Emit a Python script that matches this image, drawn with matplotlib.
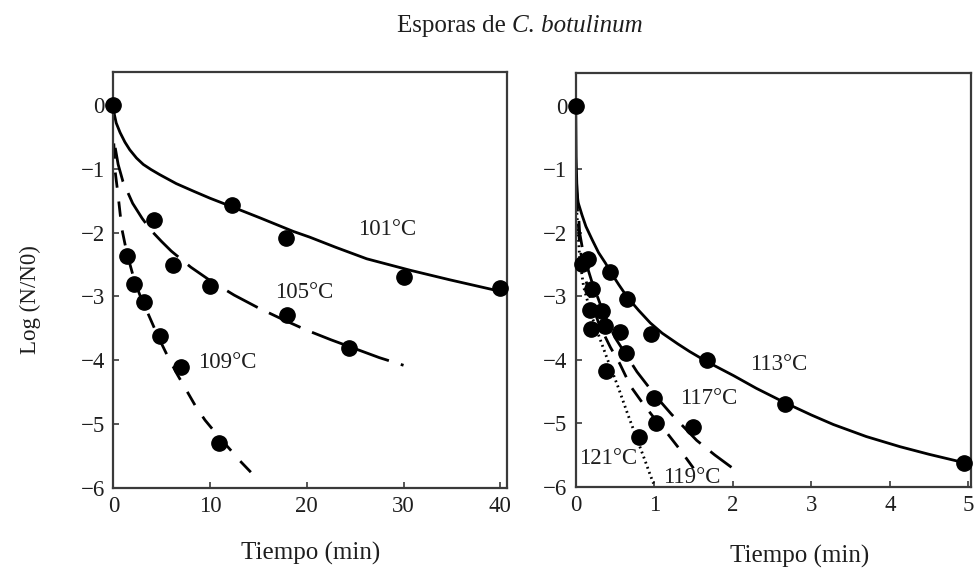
import matplotlib
matplotlib.use("Agg")
import matplotlib.pyplot as plt

plt.rcParams['font.family'] = ['Liberation Serif', 'DejaVu Serif']
plt.rcParams['lines.scale_dashes'] = False
plt.rcParams['axes.unicode_minus'] = True

# ---------------- data (left panel, minutes) ----------------
pts101_t = [0, 12.3, 17.9, 30.0, 40.0]
pts101_y = [0, -1.56, -2.09, -2.69, -2.87]
pts105_t = [4.2, 6.2, 10.0, 18.0, 24.4]
pts105_y = [-1.80, -2.50, -2.83, -3.29, -3.81]
pts109_t = [1.38, 2.17, 3.2, 4.83, 7.0, 10.96]
pts109_y = [-2.37, -2.81, -3.08, -3.62, -4.11, -5.30]

fit101_t = [0, 0.02, 0.07, 0.3, 0.7, 1.2, 1.7, 2.4, 3.1, 3.9, 4.8, 6.5, 8.3, 10.0, 11.7,
            15.2, 18.6, 20.3, 23.0, 26.2, 30.7, 34.8, 40.0]
fit101_y = [0, -0.05, -0.12, -0.28, -0.43, -0.58, -0.70, -0.83, -0.93, -1.01, -1.09, -1.23,
            -1.35, -1.46, -1.56, -1.77, -1.98, -2.07, -2.23, -2.41, -2.59, -2.74, -2.92]
fit105_t = [0.2, 0.5, 1, 2, 3, 4, 5, 6, 8, 10, 12.5, 15, 17.5, 20, 22.5, 25, 27.5, 30]
fit105_y = [-0.67, -0.93, -1.20, -1.54, -1.78, -1.98, -2.14, -2.29, -2.54, -2.75, -2.98,
            -3.18, -3.36, -3.53, -3.68, -3.82, -3.96, -4.08]
fit109_t = [0.05, 0.2, 0.5, 0.87, 1.4, 2.2, 3.0, 3.62, 4.6, 5.69, 6.6, 7.59, 8.5, 9.48,
            10.9, 12.07, 13.1, 14.3]
fit109_y = [-0.60, -1.05, -1.42, -1.93, -2.32, -2.76, -3.08, -3.28, -3.62, -3.96, -4.22,
            -4.48, -4.72, -4.94, -5.20, -5.40, -5.58, -5.77]

# ---------------- data (right panel, minutes) ----------------
pts113_t = [0, 0.44, 0.655, 0.955, 1.67, 2.67, 4.94]
pts113_y = [0, -2.61, -3.05, -3.59, -4.01, -4.69, -5.62]
pts117_t = [0.16, 0.21, 0.37, 0.56, 0.64, 1.0, 1.49]
pts117_y = [-2.41, -2.89, -3.47, -3.56, -3.89, -4.61, -5.06]
pts119_t = [0.076, 0.18, 0.33, 1.02]
pts119_y = [-2.49, -3.22, -3.23, -5.00]
pts121_t = [0.20, 0.39, 0.80]
pts121_y = [-3.51, -4.18, -5.21]

fit113_t = [0, 0.005, 0.016, 0.03, 0.08, 0.13, 0.21, 0.29, 0.38, 0.44, 0.55, 0.655, 0.8,
            0.95, 1.1, 1.3, 1.45, 1.67, 2.01, 2.3, 2.67, 3.0, 3.28, 3.7, 4.13, 4.5, 4.94, 5.0]
fit113_y = [0, -0.8, -1.35, -1.52, -1.72, -1.9, -2.11, -2.31, -2.48, -2.61, -2.82, -3.01,
            -3.22, -3.42, -3.58, -3.75, -3.87, -4.03, -4.25, -4.45, -4.68, -4.87, -5.02,
            -5.21, -5.37, -5.49, -5.62, -5.65]
fit117_t = [0.01, 0.05, 0.1, 0.2, 0.35, 0.5, 0.78, 1.03, 1.22, 1.54, 1.77, 2.0]
fit117_y = [-1.2, -2.0, -2.35, -2.75, -3.25, -3.65, -4.19, -4.59, -4.86, -5.27, -5.50, -5.71]
fit119_t = [0.01, 0.05, 0.1, 0.2, 0.3, 0.44, 0.56, 0.7, 0.85, 1.0, 1.16, 1.33, 1.5]
fit119_y = [-1.4, -2.2, -2.6, -3.1, -3.45, -3.80, -4.06, -4.42, -4.68, -4.92, -5.15, -5.42, -5.71]
fit121_t = [0.01, 0.05, 0.1, 0.2, 0.27, 0.4, 0.54, 0.66, 0.78, 0.88, 0.95, 0.99]
fit121_y = [-1.6, -2.4, -2.85, -3.3, -3.54, -3.98, -4.43, -4.85, -5.25, -5.58, -5.82, -5.95]

left_xticks = [0, 10, 20, 30, 40]
right_xticks = [0, 1, 2, 3, 4, 5]
yticks = [0, -1, -2, -3, -4, -5, -6]

TXT = '#1e1e1e'
SPINE = '#3a3a3a'
FS = 16.5
LW = 2.0

fig = plt.figure(figsize=(9.76, 5.75), dpi=100)
axL = fig.add_axes([0.1161, 0.1518, 0.4034, 0.7230])
axR = fig.add_axes([0.5899, 0.1536, 0.4047, 0.7195])

mk = dict(marker='o', ms=11, color='black', ls='none', zorder=5, clip_on=False)

# left panel
axL.plot(fit101_t, fit101_y, color='black', lw=LW)
axL.plot(fit105_t, fit105_y, color='black', lw=LW, dashes=(25, 9))
axL.plot(fit109_t, fit109_y, color='black', lw=LW, dashes=(11, 10))
axL.plot(pts101_t, pts101_y, **mk)
axL.plot(pts105_t, pts105_y, **mk)
axL.plot(pts109_t, pts109_y, **mk)
axL.text(28.3, -1.95, '101°C', fontsize=FS, color=TXT, ha='center', va='center')
axL.text(19.7, -2.94, '105°C', fontsize=FS, color=TXT, ha='center', va='center')
axL.text(11.8, -4.04, '109°C', fontsize=FS, color=TXT, ha='center', va='center')
axL.set_xlim(0, 40.7)
axL.set_xticks(left_xticks)

# right panel
axR.plot(fit113_t, fit113_y, color='black', lw=LW)
axR.plot(fit117_t, fit117_y, color='black', lw=LW, dashes=(19, 9))
axR.plot(fit119_t, fit119_y, color='black', lw=LW, dashes=(12, 9))
axR.plot(fit121_t, fit121_y, color='black', lw=LW, dashes=(1.3, 2.6))
axR.plot(pts113_t, pts113_y, **mk)
axR.plot(pts117_t, pts117_y, **mk)
axR.plot(pts119_t, pts119_y, **mk)
axR.plot(pts121_t, pts121_y, **mk)
axR.text(2.58, -4.07, '113°C', fontsize=FS, color=TXT, ha='center', va='center')
axR.text(1.69, -4.61, '117°C', fontsize=FS, color=TXT, ha='center', va='center')
axR.text(0.41, -5.55, '121°C', fontsize=FS, color=TXT, ha='center', va='center')
axR.text(1.48, -5.85, '119°C', fontsize=FS, color=TXT, ha='center', va='center')
axR.set_xlim(0, 5.03)
axR.set_xticks(right_xticks)

for ax in (axL, axR):
    ax.set_ylim(-6, 0.52)
    ax.set_yticks(yticks)
    ax.tick_params(direction='in', length=4, width=1.2, colors=SPINE,
                   labelsize=FS, labelcolor=TXT, pad=6)
    for s in ax.spines.values():
        s.set_color(SPINE)
        s.set_linewidth(1.6)

fig.text(30 / 976, 1 - 300 / 575, 'Log (N/N0)', rotation=90, fontsize=FS,
         color=TXT, ha='center', va='center')
fig.text(311 / 976, 1 - 553 / 575, 'Tiempo (min)', fontsize=18, color=TXT,
         ha='center', va='center')
fig.text(800 / 976, 1 - 556 / 575, 'Tiempo (min)', fontsize=18, color=TXT,
         ha='center', va='center')

# title with italic species name
fig.canvas.draw()
r = fig.canvas.get_renderer()
t1 = fig.text(0, 1 - 26 / 575, 'Esporas de ', fontsize=18, color=TXT, va='center')
t2 = fig.text(0, 1 - 26 / 575, 'C. botulinum', fontsize=18, color=TXT, va='center',
              style='italic')
w1 = t1.get_window_extent(r).width
w2 = t2.get_window_extent(r).width
x0 = 520 - (w1 + w2) / 2
t1.set_x(x0 / 976)
t2.set_x((x0 + w1) / 976)

fig.savefig('out.png', dpi=100)
